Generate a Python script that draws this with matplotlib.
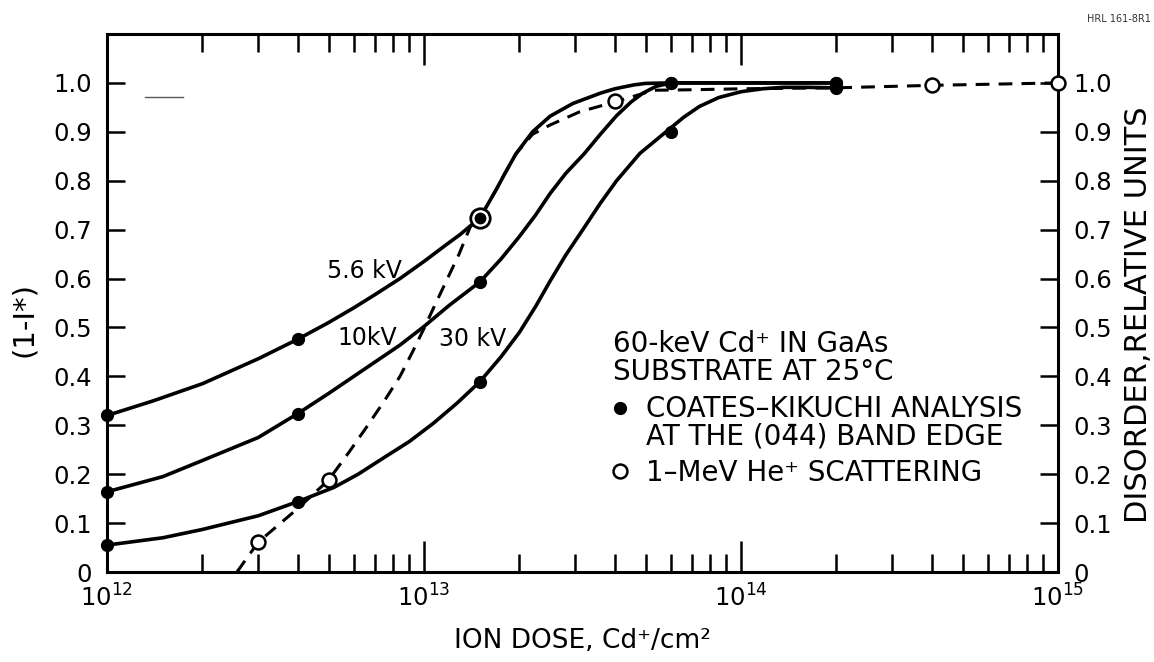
import numpy as np
import matplotlib
matplotlib.use('Agg')
import matplotlib.pyplot as plt
from matplotlib.ticker import LogLocator, NullFormatter
from matplotlib.legend_handler import HandlerLine2D

plt.rcParams['font.family'] = ['DejaVu Sans']

########### Data #########

# Coates-Kikuchi measured points (filled dots)
ck_dose = [1e12, 4e12, 1.5e13, 6e13, 2e14]
ck_56kv = [0.32, 0.476, 0.724, 1.0, 1.0]
ck_10kv = [0.164, 0.324, 0.593, 1.0, 1.0]
ck_30kv = [0.055, 0.144, 0.389, 0.90, 0.99]

# 1-MeV He+ scattering points (open circles)
he_dose = [3e12, 5e12, 4e13, 4e14, 1e15]
he_disorder = [0.061, 0.188, 0.962, 0.995, 1.0]
# point shared by both methods (circled dot)
shared_dose = [1.5e13]
shared_value = [0.724]

# hand drawn curves
curve_56_dose = [1e12, 1.4e12, 2e12, 3e12, 4e12, 5e12, 6e12, 7e12, 8.4e12, 1e13, 1.18e13,
                 1.3e13, 1.5e13, 1.6e13, 1.7e13, 1.8e13, 1.95e13, 2.2e13, 2.5e13, 2.95e13,
                 3.6e13, 4e13, 4.6e13, 5e13, 6e13, 2e14]
curve_56_val = [0.32, 0.35, 0.385, 0.436, 0.476, 0.51, 0.54, 0.567, 0.60, 0.635, 0.67,
                0.69, 0.724, 0.755, 0.785, 0.815, 0.855, 0.90, 0.932, 0.958,
                0.979, 0.988, 0.996, 0.999, 1.0, 1.0]

curve_10_dose = [1e12, 1.5e12, 2e12, 3e12, 4e12, 5e12, 6.6e12, 8.4e12, 1e13, 1.2e13, 1.5e13,
                 1.75e13, 2e13, 2.25e13, 2.5e13, 2.8e13, 3.2e13, 3.6e13, 4.05e13, 4.5e13,
                 4.9e13, 5.4e13, 6e13, 2e14]
curve_10_val = [0.164, 0.195, 0.228, 0.275, 0.324, 0.365, 0.418, 0.464, 0.502, 0.545, 0.593,
                0.64, 0.686, 0.73, 0.774, 0.815, 0.855, 0.895, 0.933, 0.961,
                0.979, 0.993, 1.0, 1.0]

curve_30_dose = [1e12, 1.5e12, 2e12, 3e12, 4e12, 5.2e12, 6.2e12, 7.4e12, 9e12, 1.07e13,
                 1.27e13, 1.5e13, 1.75e13, 2e13, 2.25e13, 2.5e13, 2.8e13, 3.2e13, 3.6e13,
                 4.05e13, 4.8e13, 5.8e13, 6.6e13, 7.4e13, 8.5e13, 1e14, 1.17e14, 1.36e14,
                 1.6e14, 2e14]
curve_30_val = [0.055, 0.07, 0.087, 0.115, 0.144, 0.173, 0.2, 0.232, 0.267, 0.304,
                0.345, 0.389, 0.44, 0.49, 0.543, 0.595, 0.648, 0.704, 0.754,
                0.80, 0.856, 0.90, 0.93, 0.952, 0.97, 0.982, 0.988, 0.991,
                0.991, 0.99]

curve_he_dose = [2.57e12, 3e12, 4e12, 5e12, 5.8e12, 6.6e12, 7.5e12, 8.4e12, 9.2e12, 1e13,
                 1.09e13, 1.18e13, 1.29e13, 1.4e13, 1.5e13, 1.6e13, 1.7e13, 1.8e13, 1.95e13,
                 2.2e13, 2.5e13, 3.1e13, 4.05e13, 5.3e13, 7e13, 1e14, 2e14, 4e14, 1e15]
curve_he_val = [0.0, 0.061, 0.13, 0.188, 0.245, 0.297, 0.35, 0.40, 0.45, 0.498,
                0.55, 0.597, 0.65, 0.706, 0.724, 0.755, 0.785, 0.815, 0.855,
                0.895, 0.914, 0.941, 0.962, 0.985, 0.986, 0.988, 0.99, 0.995, 1.0]

# stray pen mark near the top left
stray_dose = [1.32e12, 1.74e12]
stray_val = [0.971, 0.971]

y_ticks = [0, 0.1, 0.2, 0.3, 0.4, 0.5, 0.6, 0.7, 0.8, 0.9, 1.0]
y_tick_labels = ['0', '0.1', '0.2', '0.3', '0.4', '0.5', '0.6', '0.7', '0.8', '0.9', '1.0']

curve_labels = ['5.6 kV', '10kV', '30 kV']
label_dose = [6.5e12, 6.6e12, 1.42e13]
label_val = [0.616, 0.479, 0.476]

legend_title = '60-keV Cd\u207a IN GaAs\nSUBSTRATE AT 25\u00b0C'
legend_ck = 'COATES\u2013KIKUCHI ANALYSIS\nAT THE (04\u03044) BAND EDGE'
legend_he = '1\u2013MeV He\u207a SCATTERING'


# legend marker lifted to the first line of a two line label
class FirstLineHandler(HandlerLine2D):
    def create_artists(self, legend, orig_handle, xdescent, ydescent, width, height,
                       fontsize, trans):
        return super().create_artists(legend, orig_handle, xdescent, ydescent - 1.15 * fontsize,
                                      width, height, fontsize, trans)


########### Plot #########

fig = plt.figure(figsize=(11.54, 6.62), dpi=100)
ax = fig.add_axes([107 / 1154, 1 - 572 / 662, (1058 - 107) / 1154, (572 - 34) / 662])

lw = 2.6
for d, v in [(curve_56_dose, curve_56_val), (curve_10_dose, curve_10_val),
             (curve_30_dose, curve_30_val)]:
    ax.plot(d, v, color='black', lw=lw, solid_joinstyle='round', solid_capstyle='round', zorder=2)
ax.plot(curve_he_dose, curve_he_val, color='black', lw=2.2, ls=(0, (4.5, 3.0)), zorder=2)
ax.plot(stray_dose, stray_val, color='0.35', lw=1.0)

ck_handle = None
for vals in [ck_56kv, ck_10kv, ck_30kv]:
    ck_handle, = ax.plot(ck_dose, vals, 'o', color='black', ms=8.5, ls='none', zorder=4, clip_on=False)
he_handle, = ax.plot(he_dose, he_disorder, 'o', mfc='white', mec='black', mew=1.8, ms=10,
                     ls='none', zorder=5, clip_on=False)
ax.plot(shared_dose, shared_value, 'o', mfc='white', mec='black', mew=2.0, ms=14, zorder=5)
ax.plot(shared_dose, shared_value, 'o', color='black', ms=7.5, zorder=6)

for txt, d, v in zip(curve_labels, label_dose, label_val):
    ax.text(d, v, txt, fontsize=17, ha='center', va='center')

ax.set_xscale('log')
ax.set_xlim(1e12, 1e15)
ax.set_ylim(0, 1.1)
ax.set_yticks(y_ticks)
ax.set_yticklabels(y_tick_labels)
ax.xaxis.set_minor_locator(LogLocator(base=10, subs=range(2, 10)))
ax.xaxis.set_minor_formatter(NullFormatter())

ax.tick_params(axis='both', which='both', direction='in', top=True, right=True,
               labelright=True, width=1.8, labelsize=17.5)
ax.tick_params(axis='y', length=13, pad=11)
ax.tick_params(axis='x', which='major', length=22, pad=9)
ax.tick_params(axis='x', which='minor', length=13)
for s in ax.spines.values():
    s.set_linewidth(2.2)

ax.set_ylabel('(1-I*)', fontsize=21)
ax.yaxis.set_label_coords(-0.073, 0.47)
ax.set_xlabel('ION DOSE, Cd\u207a/cm\u00b2', fontsize=19)
ax.xaxis.set_label_coords(0.5, -0.105)
ax.text(1.085, 0.478, 'DISORDER,RELATIVE UNITS', transform=ax.transAxes, rotation=90,
        fontsize=22, ha='center', va='center')

leg = ax.legend([ck_handle, he_handle], [legend_ck, legend_he], title=legend_title,
                loc='upper left', bbox_to_anchor=(0.5175, 0.475), frameon=False,
                fontsize=20, title_fontsize=20, alignment='left', borderpad=0,
                handlelength=0.5, handletextpad=0.7, labelspacing=0.3,
                handler_map={ck_handle: FirstLineHandler()})
leg.get_title().set_linespacing(1.0)
for t in leg.get_texts():
    t.set_linespacing(1.0)

fig.text(0.997, 0.972, 'HRL 161-8R1', fontsize=7, ha='right', va='center', color='0.2')

fig.savefig('out.png', dpi=100)
